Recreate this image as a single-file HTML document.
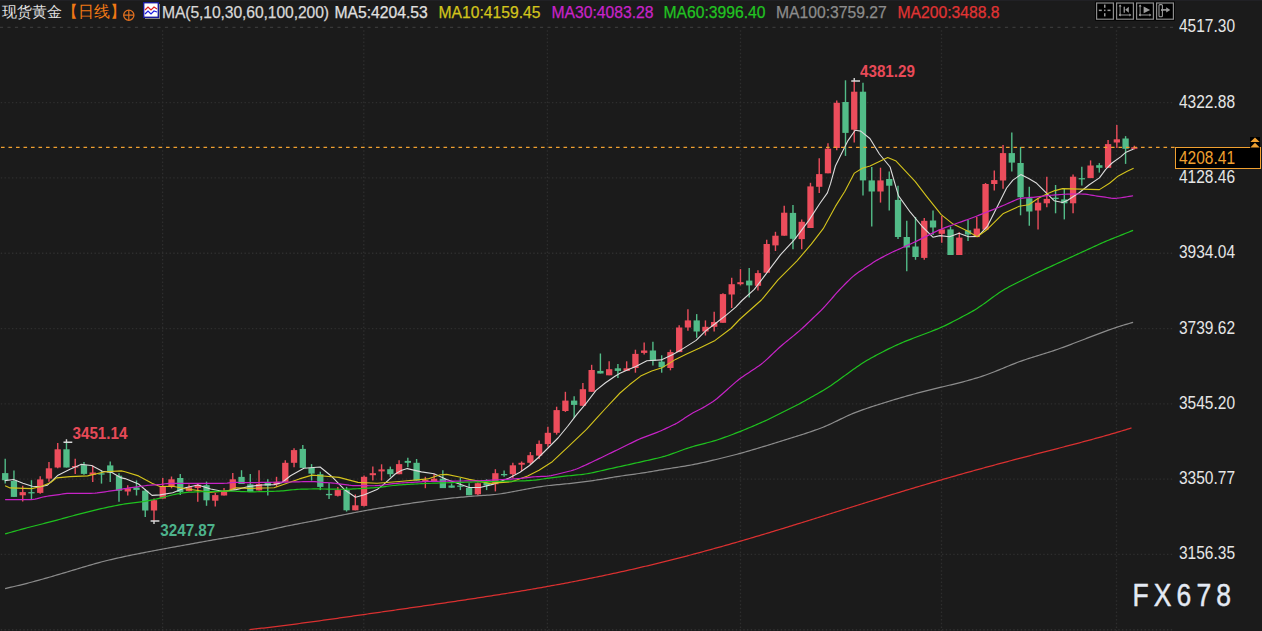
<!DOCTYPE html>
<html><head><meta charset="utf-8">
<style>
html,body{margin:0;padding:0;}
body{width:1262px;height:631px;background:#1b1b1b;position:relative;overflow:hidden;font-family:"Liberation Sans",sans-serif;}
svg{position:absolute;left:0;top:0;}
.t{position:absolute;white-space:nowrap;line-height:1;}
.ax{position:absolute;left:1179px;color:#e6e6e6;font-size:15.5px;line-height:1;white-space:nowrap;transform:scaleY(1.13);transform-origin:0 0;}
.hdr{top:5.2px;font-size:15.7px;transform:none;transform-origin:0 0;-webkit-text-stroke:0.25px currentColor;}
.lb{font-size:15.2px;font-weight:bold;transform:scaleY(1.12);transform-origin:0 0;}
.btn{position:absolute;top:2px;width:16px;height:15px;border:1px solid #8a8a8a;background:#000;box-shadow:0 0 0 1px #000;}
</style></head><body>
<div style="position:absolute;left:0;top:0;width:1262px;height:1px;background:#212125"></div>
<svg width="1262" height="631" viewBox="0 0 1262 631">
<line x1="-0.1" y1="27.37" x2="1174" y2="27.37" stroke="#383838" stroke-width="1.2" stroke-dasharray="3.2 4.3"/>
<line x1="0.75" y1="102.67" x2="1174" y2="102.67" stroke="#2e2e2e" stroke-width="1.3" stroke-dasharray="1.4 2.35"/>
<line x1="0.75" y1="177.97" x2="1174" y2="177.97" stroke="#2e2e2e" stroke-width="1.3" stroke-dasharray="1.4 2.35"/>
<line x1="0.75" y1="253.27" x2="1174" y2="253.27" stroke="#2e2e2e" stroke-width="1.3" stroke-dasharray="1.4 2.35"/>
<line x1="0.75" y1="328.57" x2="1174" y2="328.57" stroke="#2e2e2e" stroke-width="1.3" stroke-dasharray="1.4 2.35"/>
<line x1="0.75" y1="403.87" x2="1174" y2="403.87" stroke="#2e2e2e" stroke-width="1.3" stroke-dasharray="1.4 2.35"/>
<line x1="0.75" y1="479.17" x2="1174" y2="479.17" stroke="#2e2e2e" stroke-width="1.3" stroke-dasharray="1.4 2.35"/>
<line x1="0.75" y1="554.47" x2="1174" y2="554.47" stroke="#2e2e2e" stroke-width="1.3" stroke-dasharray="1.4 2.35"/>
<line x1="0.75" y1="629.77" x2="1174" y2="629.77" stroke="#2e2e2e" stroke-width="1.3" stroke-dasharray="1.4 2.35"/>
<line x1="162.6" y1="30.3" x2="162.6" y2="631" stroke="#2e2e2e" stroke-width="1.3" stroke-dasharray="1.4 2.35"/>
<line x1="363.8" y1="30.3" x2="363.8" y2="631" stroke="#2e2e2e" stroke-width="1.3" stroke-dasharray="1.4 2.35"/>
<line x1="547.4" y1="30.3" x2="547.4" y2="631" stroke="#2e2e2e" stroke-width="1.3" stroke-dasharray="1.4 2.35"/>
<line x1="740.5" y1="30.3" x2="740.5" y2="631" stroke="#2e2e2e" stroke-width="1.3" stroke-dasharray="1.4 2.35"/>
<line x1="941.5" y1="30.3" x2="941.5" y2="631" stroke="#2e2e2e" stroke-width="1.3" stroke-dasharray="1.4 2.35"/>
<line x1="1116.5" y1="30.3" x2="1116.5" y2="631" stroke="#2e2e2e" stroke-width="1.3" stroke-dasharray="1.4 2.35"/>
<line x1="5.2" y1="458.8" x2="5.2" y2="483.4" stroke="#52bc88" stroke-width="1.4"/>
<rect x="2.05" y="473.1" width="6.3" height="7.1" fill="#52bc88"/>
<line x1="13.95" y1="470.4" x2="13.95" y2="496.9" stroke="#52bc88" stroke-width="1.4"/>
<rect x="10.8" y="481" width="6.3" height="15.9" fill="#52bc88"/>
<line x1="22.71" y1="485.8" x2="22.71" y2="501.6" stroke="#ec4d5c" stroke-width="1.4"/>
<rect x="19.56" y="492.1" width="6.3" height="3.2" fill="#ec4d5c"/>
<line x1="31.46" y1="480.2" x2="31.46" y2="499.2" stroke="#52bc88" stroke-width="1.4"/>
<rect x="28.31" y="492.1" width="6.3" height="1.3" fill="#52bc88"/>
<line x1="40.21" y1="476.3" x2="40.21" y2="493.7" stroke="#ec4d5c" stroke-width="1.4"/>
<rect x="37.06" y="479.4" width="6.3" height="13.5" fill="#ec4d5c"/>
<line x1="48.97" y1="462" x2="48.97" y2="481.8" stroke="#ec4d5c" stroke-width="1.4"/>
<rect x="45.82" y="468.3" width="6.3" height="10.3" fill="#ec4d5c"/>
<line x1="57.72" y1="443" x2="57.72" y2="468.3" stroke="#ec4d5c" stroke-width="1.4"/>
<rect x="54.57" y="449.3" width="6.3" height="18.2" fill="#ec4d5c"/>
<line x1="66.47" y1="442.3" x2="66.47" y2="467.5" stroke="#52bc88" stroke-width="1.4"/>
<rect x="63.32" y="449.3" width="6.3" height="18.2" fill="#52bc88"/>
<line x1="75.22" y1="458.8" x2="75.22" y2="473.9" stroke="#ec4d5c" stroke-width="1.4"/>
<rect x="72.07" y="466" width="6.3" height="1.5" fill="#ec4d5c"/>
<line x1="83.98" y1="462" x2="83.98" y2="474.7" stroke="#52bc88" stroke-width="1.4"/>
<rect x="80.83" y="465.2" width="6.3" height="8.7" fill="#52bc88"/>
<line x1="92.73" y1="465.4" x2="92.73" y2="482" stroke="#ec4d5c" stroke-width="1.4"/>
<rect x="89.58" y="472.5" width="6.3" height="2.4" fill="#ec4d5c"/>
<line x1="101.48" y1="470.9" x2="101.48" y2="483.6" stroke="#52bc88" stroke-width="1.4"/>
<rect x="98.33" y="473.3" width="6.3" height="1.3" fill="#52bc88"/>
<line x1="110.24" y1="461.4" x2="110.24" y2="482" stroke="#52bc88" stroke-width="1.4"/>
<rect x="107.09" y="465.4" width="6.3" height="7.1" fill="#52bc88"/>
<line x1="118.99" y1="473.3" x2="118.99" y2="501.8" stroke="#52bc88" stroke-width="1.4"/>
<rect x="115.84" y="475.7" width="6.3" height="15" fill="#52bc88"/>
<line x1="127.74" y1="485.2" x2="127.74" y2="495.5" stroke="#ec4d5c" stroke-width="1.4"/>
<rect x="124.59" y="488.3" width="6.3" height="3.2" fill="#ec4d5c"/>
<line x1="136.5" y1="480.4" x2="136.5" y2="495.5" stroke="#52bc88" stroke-width="1.4"/>
<rect x="133.34" y="487.5" width="6.3" height="2.4" fill="#52bc88"/>
<line x1="145.25" y1="489.1" x2="145.25" y2="516.9" stroke="#52bc88" stroke-width="1.4"/>
<rect x="142.1" y="490.7" width="6.3" height="19.8" fill="#52bc88"/>
<line x1="154" y1="498.6" x2="154" y2="521" stroke="#ec4d5c" stroke-width="1.4"/>
<rect x="150.85" y="500.2" width="6.3" height="10.3" fill="#ec4d5c"/>
<line x1="162.75" y1="478" x2="162.75" y2="498.6" stroke="#ec4d5c" stroke-width="1.4"/>
<rect x="159.6" y="486" width="6.3" height="12.6" fill="#ec4d5c"/>
<line x1="171.51" y1="476.5" x2="171.51" y2="488.3" stroke="#ec4d5c" stroke-width="1.4"/>
<rect x="168.36" y="479.3" width="6.3" height="6.7" fill="#ec4d5c"/>
<line x1="180.26" y1="474" x2="180.26" y2="495" stroke="#52bc88" stroke-width="1.4"/>
<rect x="177.11" y="478" width="6.3" height="14" fill="#52bc88"/>
<line x1="189.01" y1="484.4" x2="189.01" y2="491.5" stroke="#ec4d5c" stroke-width="1.4"/>
<rect x="185.86" y="487.2" width="6.3" height="3.9" fill="#ec4d5c"/>
<line x1="197.77" y1="484" x2="197.77" y2="501.8" stroke="#ec4d5c" stroke-width="1.4"/>
<rect x="194.62" y="484.8" width="6.3" height="3.2" fill="#ec4d5c"/>
<line x1="206.52" y1="481.6" x2="206.52" y2="505.8" stroke="#52bc88" stroke-width="1.4"/>
<rect x="203.37" y="485.2" width="6.3" height="15.1" fill="#52bc88"/>
<line x1="215.27" y1="493.1" x2="215.27" y2="506.6" stroke="#ec4d5c" stroke-width="1.4"/>
<rect x="212.12" y="495.1" width="6.3" height="5.6" fill="#ec4d5c"/>
<line x1="224.02" y1="488" x2="224.02" y2="495.5" stroke="#ec4d5c" stroke-width="1.4"/>
<rect x="220.87" y="491.9" width="6.3" height="3.6" fill="#ec4d5c"/>
<line x1="232.78" y1="472.9" x2="232.78" y2="489.6" stroke="#ec4d5c" stroke-width="1.4"/>
<rect x="229.63" y="479.3" width="6.3" height="10.3" fill="#ec4d5c"/>
<line x1="241.53" y1="470.2" x2="241.53" y2="484" stroke="#52bc88" stroke-width="1.4"/>
<rect x="238.38" y="476.9" width="6.3" height="7.1" fill="#52bc88"/>
<line x1="250.28" y1="474.1" x2="250.28" y2="491.9" stroke="#52bc88" stroke-width="1.4"/>
<rect x="247.13" y="484.4" width="6.3" height="7.5" fill="#52bc88"/>
<line x1="259.04" y1="470.2" x2="259.04" y2="490.4" stroke="#ec4d5c" stroke-width="1.4"/>
<rect x="255.89" y="484" width="6.3" height="6.4" fill="#ec4d5c"/>
<line x1="267.79" y1="479.3" x2="267.79" y2="495.5" stroke="#52bc88" stroke-width="1.4"/>
<rect x="264.64" y="482" width="6.3" height="3.6" fill="#52bc88"/>
<line x1="276.54" y1="476.8" x2="276.54" y2="486.9" stroke="#ec4d5c" stroke-width="1.4"/>
<rect x="273.39" y="481.8" width="6.3" height="2.6" fill="#ec4d5c"/>
<line x1="285.3" y1="460.3" x2="285.3" y2="481.8" stroke="#ec4d5c" stroke-width="1.4"/>
<rect x="282.15" y="462.8" width="6.3" height="19" fill="#ec4d5c"/>
<line x1="294.05" y1="448.2" x2="294.05" y2="467.2" stroke="#ec4d5c" stroke-width="1.4"/>
<rect x="290.9" y="450.1" width="6.3" height="12.7" fill="#ec4d5c"/>
<line x1="302.8" y1="445.1" x2="302.8" y2="467.9" stroke="#52bc88" stroke-width="1.4"/>
<rect x="299.65" y="448.9" width="6.3" height="19" fill="#52bc88"/>
<line x1="311.56" y1="464.1" x2="311.56" y2="480.6" stroke="#52bc88" stroke-width="1.4"/>
<rect x="308.41" y="467.9" width="6.3" height="5.7" fill="#52bc88"/>
<line x1="320.31" y1="471.7" x2="320.31" y2="490.1" stroke="#52bc88" stroke-width="1.4"/>
<rect x="317.16" y="474.2" width="6.3" height="12.7" fill="#52bc88"/>
<line x1="329.06" y1="483.1" x2="329.06" y2="498.9" stroke="#52bc88" stroke-width="1.4"/>
<rect x="325.91" y="493.9" width="6.3" height="1.3" fill="#52bc88"/>
<line x1="337.81" y1="486.9" x2="337.81" y2="496.4" stroke="#ec4d5c" stroke-width="1.4"/>
<rect x="334.66" y="490.1" width="6.3" height="5.7" fill="#ec4d5c"/>
<line x1="346.57" y1="486.9" x2="346.57" y2="511.6" stroke="#52bc88" stroke-width="1.4"/>
<rect x="343.42" y="490.1" width="6.3" height="20.2" fill="#52bc88"/>
<line x1="355.32" y1="494.5" x2="355.32" y2="510.3" stroke="#ec4d5c" stroke-width="1.4"/>
<rect x="352.17" y="505.3" width="6.3" height="5" fill="#ec4d5c"/>
<line x1="364.07" y1="475.5" x2="364.07" y2="506.5" stroke="#ec4d5c" stroke-width="1.4"/>
<rect x="360.92" y="476.8" width="6.3" height="29.1" fill="#ec4d5c"/>
<line x1="372.83" y1="466.6" x2="372.83" y2="480.6" stroke="#ec4d5c" stroke-width="1.4"/>
<rect x="369.68" y="473.2" width="6.3" height="2" fill="#ec4d5c"/>
<line x1="381.58" y1="464.3" x2="381.58" y2="480.6" stroke="#ec4d5c" stroke-width="1.4"/>
<rect x="378.43" y="469.4" width="6.3" height="2" fill="#ec4d5c"/>
<line x1="390.33" y1="466.6" x2="390.33" y2="476.8" stroke="#52bc88" stroke-width="1.4"/>
<rect x="387.18" y="469.2" width="6.3" height="5" fill="#52bc88"/>
<line x1="399.08" y1="460.3" x2="399.08" y2="474.2" stroke="#ec4d5c" stroke-width="1.4"/>
<rect x="395.94" y="464.1" width="6.3" height="10.1" fill="#ec4d5c"/>
<line x1="407.84" y1="457.7" x2="407.84" y2="467.2" stroke="#52bc88" stroke-width="1.4"/>
<rect x="404.69" y="460.9" width="6.3" height="1.9" fill="#52bc88"/>
<line x1="416.59" y1="459" x2="416.59" y2="480.6" stroke="#52bc88" stroke-width="1.4"/>
<rect x="413.44" y="462.8" width="6.3" height="17.8" fill="#52bc88"/>
<line x1="425.34" y1="476.8" x2="425.34" y2="488.2" stroke="#ec4d5c" stroke-width="1.4"/>
<rect x="422.19" y="480" width="6.3" height="2" fill="#ec4d5c"/>
<line x1="434.1" y1="474" x2="434.1" y2="481.4" stroke="#ec4d5c" stroke-width="1.4"/>
<rect x="430.95" y="478.7" width="6.3" height="2.7" fill="#ec4d5c"/>
<line x1="442.85" y1="470.2" x2="442.85" y2="488.1" stroke="#52bc88" stroke-width="1.4"/>
<rect x="439.7" y="478.7" width="6.3" height="9.4" fill="#52bc88"/>
<line x1="451.6" y1="483.5" x2="451.6" y2="487.7" stroke="#52bc88" stroke-width="1.4"/>
<rect x="448.45" y="485.5" width="6.3" height="2.2" fill="#52bc88"/>
<line x1="460.36" y1="478" x2="460.36" y2="490.1" stroke="#52bc88" stroke-width="1.4"/>
<rect x="457.21" y="485.5" width="6.3" height="1.3" fill="#52bc88"/>
<line x1="469.11" y1="483.2" x2="469.11" y2="495.3" stroke="#52bc88" stroke-width="1.4"/>
<rect x="465.96" y="487.8" width="6.3" height="7.5" fill="#52bc88"/>
<line x1="477.86" y1="482.5" x2="477.86" y2="495.3" stroke="#ec4d5c" stroke-width="1.4"/>
<rect x="474.71" y="483.2" width="6.3" height="11.1" fill="#ec4d5c"/>
<line x1="486.62" y1="479.3" x2="486.62" y2="490.1" stroke="#52bc88" stroke-width="1.4"/>
<rect x="483.47" y="482.9" width="6.3" height="2.6" fill="#52bc88"/>
<line x1="495.37" y1="469.2" x2="495.37" y2="491.4" stroke="#ec4d5c" stroke-width="1.4"/>
<rect x="492.22" y="473.2" width="6.3" height="11" fill="#ec4d5c"/>
<line x1="504.12" y1="470.4" x2="504.12" y2="476.8" stroke="#52bc88" stroke-width="1.4"/>
<rect x="500.97" y="474" width="6.3" height="1.3" fill="#52bc88"/>
<line x1="512.87" y1="462.8" x2="512.87" y2="478" stroke="#ec4d5c" stroke-width="1.4"/>
<rect x="509.72" y="465.3" width="6.3" height="8.9" fill="#ec4d5c"/>
<line x1="521.63" y1="461.5" x2="521.63" y2="471" stroke="#ec4d5c" stroke-width="1.4"/>
<rect x="518.48" y="462.8" width="6.3" height="1.9" fill="#ec4d5c"/>
<line x1="530.38" y1="452" x2="530.38" y2="464.7" stroke="#ec4d5c" stroke-width="1.4"/>
<rect x="527.23" y="455.2" width="6.3" height="7.6" fill="#ec4d5c"/>
<line x1="539.13" y1="440.6" x2="539.13" y2="459" stroke="#ec4d5c" stroke-width="1.4"/>
<rect x="535.98" y="443.9" width="6.3" height="11.7" fill="#ec4d5c"/>
<line x1="547.89" y1="426.7" x2="547.89" y2="446.8" stroke="#ec4d5c" stroke-width="1.4"/>
<rect x="544.74" y="432.8" width="6.3" height="11.3" fill="#ec4d5c"/>
<line x1="556.64" y1="406.7" x2="556.64" y2="434.6" stroke="#ec4d5c" stroke-width="1.4"/>
<rect x="553.49" y="410.1" width="6.3" height="22.7" fill="#ec4d5c"/>
<line x1="565.39" y1="391.8" x2="565.39" y2="411.9" stroke="#ec4d5c" stroke-width="1.4"/>
<rect x="562.24" y="400.6" width="6.3" height="10.4" fill="#ec4d5c"/>
<line x1="574.15" y1="396.2" x2="574.15" y2="418" stroke="#52bc88" stroke-width="1.4"/>
<rect x="571" y="400.6" width="6.3" height="4.3" fill="#52bc88"/>
<line x1="582.9" y1="383.1" x2="582.9" y2="405.8" stroke="#ec4d5c" stroke-width="1.4"/>
<rect x="579.75" y="389.2" width="6.3" height="16.6" fill="#ec4d5c"/>
<line x1="591.65" y1="364.8" x2="591.65" y2="391.8" stroke="#ec4d5c" stroke-width="1.4"/>
<rect x="588.5" y="370" width="6.3" height="21.8" fill="#ec4d5c"/>
<line x1="600.4" y1="353.5" x2="600.4" y2="373.5" stroke="#52bc88" stroke-width="1.4"/>
<rect x="597.25" y="370.9" width="6.3" height="2.6" fill="#52bc88"/>
<line x1="609.16" y1="361.3" x2="609.16" y2="375.3" stroke="#ec4d5c" stroke-width="1.4"/>
<rect x="606.01" y="369.2" width="6.3" height="6.1" fill="#ec4d5c"/>
<line x1="617.91" y1="363.9" x2="617.91" y2="377.9" stroke="#52bc88" stroke-width="1.4"/>
<rect x="614.76" y="368.3" width="6.3" height="2.6" fill="#52bc88"/>
<line x1="626.66" y1="361.3" x2="626.66" y2="370.9" stroke="#ec4d5c" stroke-width="1.4"/>
<rect x="623.51" y="368.3" width="6.3" height="2.6" fill="#ec4d5c"/>
<line x1="635.42" y1="349.7" x2="635.42" y2="372.7" stroke="#ec4d5c" stroke-width="1.4"/>
<rect x="632.27" y="353.9" width="6.3" height="14.1" fill="#ec4d5c"/>
<line x1="644.17" y1="342.6" x2="644.17" y2="354.5" stroke="#ec4d5c" stroke-width="1.4"/>
<rect x="641.02" y="350.5" width="6.3" height="2.4" fill="#ec4d5c"/>
<line x1="652.92" y1="341.8" x2="652.92" y2="365.6" stroke="#52bc88" stroke-width="1.4"/>
<rect x="649.77" y="350.5" width="6.3" height="10.3" fill="#52bc88"/>
<line x1="661.68" y1="355.3" x2="661.68" y2="372.7" stroke="#52bc88" stroke-width="1.4"/>
<rect x="658.53" y="361.6" width="6.3" height="5.6" fill="#52bc88"/>
<line x1="670.43" y1="349.7" x2="670.43" y2="370.3" stroke="#ec4d5c" stroke-width="1.4"/>
<rect x="667.28" y="352.1" width="6.3" height="15.9" fill="#ec4d5c"/>
<line x1="679.18" y1="325.2" x2="679.18" y2="352.1" stroke="#ec4d5c" stroke-width="1.4"/>
<rect x="676.03" y="327.5" width="6.3" height="24.6" fill="#ec4d5c"/>
<line x1="687.93" y1="309.3" x2="687.93" y2="330.7" stroke="#ec4d5c" stroke-width="1.4"/>
<rect x="684.78" y="320.4" width="6.3" height="7.1" fill="#ec4d5c"/>
<line x1="696.69" y1="314.1" x2="696.69" y2="337.8" stroke="#52bc88" stroke-width="1.4"/>
<rect x="693.54" y="320.4" width="6.3" height="11.1" fill="#52bc88"/>
<line x1="705.44" y1="320.4" x2="705.44" y2="335.5" stroke="#ec4d5c" stroke-width="1.4"/>
<rect x="702.29" y="326.8" width="6.3" height="4.7" fill="#ec4d5c"/>
<line x1="714.19" y1="311.7" x2="714.19" y2="331.5" stroke="#ec4d5c" stroke-width="1.4"/>
<rect x="711.04" y="322" width="6.3" height="4.8" fill="#ec4d5c"/>
<line x1="722.95" y1="293.3" x2="722.95" y2="322.8" stroke="#ec4d5c" stroke-width="1.4"/>
<rect x="719.8" y="294.1" width="6.3" height="28.7" fill="#ec4d5c"/>
<line x1="731.7" y1="277.8" x2="731.7" y2="307.9" stroke="#ec4d5c" stroke-width="1.4"/>
<rect x="728.55" y="284.2" width="6.3" height="10.3" fill="#ec4d5c"/>
<line x1="740.45" y1="269.1" x2="740.45" y2="285.4" stroke="#ec4d5c" stroke-width="1.4"/>
<rect x="737.3" y="282.2" width="6.3" height="2" fill="#ec4d5c"/>
<line x1="749.21" y1="267.9" x2="749.21" y2="297.6" stroke="#52bc88" stroke-width="1.4"/>
<rect x="746.06" y="280.6" width="6.3" height="4.8" fill="#52bc88"/>
<line x1="757.96" y1="270.3" x2="757.96" y2="290.5" stroke="#ec4d5c" stroke-width="1.4"/>
<rect x="754.81" y="273.1" width="6.3" height="12.7" fill="#ec4d5c"/>
<line x1="766.71" y1="239.7" x2="766.71" y2="272.7" stroke="#ec4d5c" stroke-width="1.4"/>
<rect x="763.56" y="244" width="6.3" height="28.7" fill="#ec4d5c"/>
<line x1="775.46" y1="231.8" x2="775.46" y2="251" stroke="#ec4d5c" stroke-width="1.4"/>
<rect x="772.31" y="235.7" width="6.3" height="9.7" fill="#ec4d5c"/>
<line x1="784.22" y1="205.7" x2="784.22" y2="235.7" stroke="#ec4d5c" stroke-width="1.4"/>
<rect x="781.07" y="212.7" width="6.3" height="23" fill="#ec4d5c"/>
<line x1="792.97" y1="205" x2="792.97" y2="249.3" stroke="#52bc88" stroke-width="1.4"/>
<rect x="789.82" y="212.9" width="6.3" height="25.9" fill="#52bc88"/>
<line x1="801.72" y1="219.4" x2="801.72" y2="249.3" stroke="#ec4d5c" stroke-width="1.4"/>
<rect x="798.57" y="221.8" width="6.3" height="17.3" fill="#ec4d5c"/>
<line x1="810.48" y1="182.8" x2="810.48" y2="228" stroke="#ec4d5c" stroke-width="1.4"/>
<rect x="807.33" y="186.4" width="6.3" height="41.6" fill="#ec4d5c"/>
<line x1="819.23" y1="158.2" x2="819.23" y2="193.1" stroke="#ec4d5c" stroke-width="1.4"/>
<rect x="816.08" y="174.1" width="6.3" height="12.7" fill="#ec4d5c"/>
<line x1="827.98" y1="143.2" x2="827.98" y2="173.3" stroke="#ec4d5c" stroke-width="1.4"/>
<rect x="824.83" y="148.7" width="6.3" height="24.6" fill="#ec4d5c"/>
<line x1="836.74" y1="100.4" x2="836.74" y2="150.3" stroke="#ec4d5c" stroke-width="1.4"/>
<rect x="833.59" y="102.8" width="6.3" height="45.2" fill="#ec4d5c"/>
<line x1="845.49" y1="80.3" x2="845.49" y2="155.9" stroke="#52bc88" stroke-width="1.4"/>
<rect x="842.34" y="102" width="6.3" height="30.9" fill="#52bc88"/>
<line x1="854.24" y1="81" x2="854.24" y2="142.4" stroke="#ec4d5c" stroke-width="1.4"/>
<rect x="851.09" y="91.7" width="6.3" height="38" fill="#ec4d5c"/>
<line x1="862.99" y1="82.8" x2="862.99" y2="195.5" stroke="#52bc88" stroke-width="1.4"/>
<rect x="859.84" y="91.7" width="6.3" height="88.7" fill="#52bc88"/>
<line x1="871.75" y1="166.9" x2="871.75" y2="226.4" stroke="#52bc88" stroke-width="1.4"/>
<rect x="868.6" y="180.4" width="6.3" height="11.1" fill="#52bc88"/>
<line x1="880.5" y1="167.7" x2="880.5" y2="202.6" stroke="#ec4d5c" stroke-width="1.4"/>
<rect x="877.35" y="180.4" width="6.3" height="11.1" fill="#ec4d5c"/>
<line x1="889.25" y1="171.4" x2="889.25" y2="210.4" stroke="#52bc88" stroke-width="1.4"/>
<rect x="886.1" y="179" width="6.3" height="6.7" fill="#52bc88"/>
<line x1="898.01" y1="185.7" x2="898.01" y2="238.9" stroke="#52bc88" stroke-width="1.4"/>
<rect x="894.86" y="199.9" width="6.3" height="37.1" fill="#52bc88"/>
<line x1="906.76" y1="220.8" x2="906.76" y2="271.2" stroke="#52bc88" stroke-width="1.4"/>
<rect x="903.61" y="237" width="6.3" height="10.5" fill="#52bc88"/>
<line x1="915.51" y1="217" x2="915.51" y2="259.8" stroke="#52bc88" stroke-width="1.4"/>
<rect x="912.36" y="246.5" width="6.3" height="10.5" fill="#52bc88"/>
<line x1="924.27" y1="218" x2="924.27" y2="259.8" stroke="#ec4d5c" stroke-width="1.4"/>
<rect x="921.12" y="220.8" width="6.3" height="37.1" fill="#ec4d5c"/>
<line x1="933.02" y1="210.4" x2="933.02" y2="235.1" stroke="#52bc88" stroke-width="1.4"/>
<rect x="929.87" y="220.5" width="6.3" height="7" fill="#52bc88"/>
<line x1="941.77" y1="216.1" x2="941.77" y2="242.7" stroke="#ec4d5c" stroke-width="1.4"/>
<rect x="938.62" y="229.4" width="6.3" height="4.4" fill="#ec4d5c"/>
<line x1="950.52" y1="226.5" x2="950.52" y2="255" stroke="#52bc88" stroke-width="1.4"/>
<rect x="947.37" y="229.4" width="6.3" height="25.6" fill="#52bc88"/>
<line x1="959.28" y1="232.2" x2="959.28" y2="255" stroke="#ec4d5c" stroke-width="1.4"/>
<rect x="956.13" y="237.6" width="6.3" height="17.4" fill="#ec4d5c"/>
<line x1="968.03" y1="220" x2="968.03" y2="241" stroke="#52bc88" stroke-width="1.4"/>
<rect x="964.88" y="230.3" width="6.3" height="4.2" fill="#52bc88"/>
<line x1="976.78" y1="217" x2="976.78" y2="237.1" stroke="#ec4d5c" stroke-width="1.4"/>
<rect x="973.63" y="228.6" width="6.3" height="8.5" fill="#ec4d5c"/>
<line x1="985.54" y1="183" x2="985.54" y2="229.6" stroke="#ec4d5c" stroke-width="1.4"/>
<rect x="982.39" y="184" width="6.3" height="45.6" fill="#ec4d5c"/>
<line x1="994.29" y1="170.6" x2="994.29" y2="190.6" stroke="#ec4d5c" stroke-width="1.4"/>
<rect x="991.14" y="180.1" width="6.3" height="3.9" fill="#ec4d5c"/>
<line x1="1003.04" y1="145" x2="1003.04" y2="188.7" stroke="#ec4d5c" stroke-width="1.4"/>
<rect x="999.89" y="153.1" width="6.3" height="27.4" fill="#ec4d5c"/>
<line x1="1011.8" y1="132.6" x2="1011.8" y2="171.6" stroke="#52bc88" stroke-width="1.4"/>
<rect x="1008.65" y="153.1" width="6.3" height="9.5" fill="#52bc88"/>
<line x1="1020.55" y1="146.9" x2="1020.55" y2="215.3" stroke="#52bc88" stroke-width="1.4"/>
<rect x="1017.4" y="163" width="6.3" height="34.2" fill="#52bc88"/>
<line x1="1029.3" y1="186.8" x2="1029.3" y2="225.8" stroke="#52bc88" stroke-width="1.4"/>
<rect x="1026.15" y="198.2" width="6.3" height="13.3" fill="#52bc88"/>
<line x1="1038.05" y1="198.3" x2="1038.05" y2="229.4" stroke="#ec4d5c" stroke-width="1.4"/>
<rect x="1034.9" y="202.7" width="6.3" height="7.8" fill="#ec4d5c"/>
<line x1="1046.81" y1="176.7" x2="1046.81" y2="207.2" stroke="#ec4d5c" stroke-width="1.4"/>
<rect x="1043.66" y="198.9" width="6.3" height="4.4" fill="#ec4d5c"/>
<line x1="1055.56" y1="185" x2="1055.56" y2="213.3" stroke="#52bc88" stroke-width="1.4"/>
<rect x="1052.41" y="197.7" width="6.3" height="1.3" fill="#52bc88"/>
<line x1="1064.31" y1="188.9" x2="1064.31" y2="219.4" stroke="#52bc88" stroke-width="1.4"/>
<rect x="1061.16" y="199.4" width="6.3" height="3.9" fill="#52bc88"/>
<line x1="1073.07" y1="174.4" x2="1073.07" y2="213.3" stroke="#ec4d5c" stroke-width="1.4"/>
<rect x="1069.92" y="176.7" width="6.3" height="26.6" fill="#ec4d5c"/>
<line x1="1081.82" y1="166.7" x2="1081.82" y2="185.5" stroke="#52bc88" stroke-width="1.4"/>
<rect x="1078.67" y="178.1" width="6.3" height="1.3" fill="#52bc88"/>
<line x1="1090.57" y1="160.4" x2="1090.57" y2="178.1" stroke="#ec4d5c" stroke-width="1.4"/>
<rect x="1087.42" y="165.5" width="6.3" height="12.6" fill="#ec4d5c"/>
<line x1="1099.33" y1="163.1" x2="1099.33" y2="172.6" stroke="#52bc88" stroke-width="1.4"/>
<rect x="1096.17" y="165.2" width="6.3" height="2.6" fill="#52bc88"/>
<line x1="1108.08" y1="140.1" x2="1108.08" y2="167.8" stroke="#ec4d5c" stroke-width="1.4"/>
<rect x="1104.93" y="144.1" width="6.3" height="23.7" fill="#ec4d5c"/>
<line x1="1116.83" y1="125.1" x2="1116.83" y2="148" stroke="#ec4d5c" stroke-width="1.4"/>
<rect x="1113.68" y="139.3" width="6.3" height="3.2" fill="#ec4d5c"/>
<line x1="1125.58" y1="136.1" x2="1125.58" y2="163.9" stroke="#52bc88" stroke-width="1.4"/>
<rect x="1122.43" y="138.5" width="6.3" height="10.3" fill="#52bc88"/>
<line x1="1134.34" y1="145.7" x2="1134.34" y2="149.5" stroke="#ec4d5c" stroke-width="1.4"/>
<rect x="1131.19" y="147.2" width="6.3" height="1.6" fill="#ec4d5c"/>
<path d="M4.7 480.6 L13.5 479.5 L22.9 483.3 L32.3 486.3 L40.4 486.7 L47.2 485.3 L58 475.2 L70 469.2 L80.9 464.4 L91.6 465.5 L102.4 471.2 L111.9 472.5 L121.3 477.9 L125 478.6 L138.5 484 L152 495.4 L160 494.9 L172.7 492.8 L185.3 487.7 L198 485 L210.7 489 L223.4 491.5 L236 489.6 L248.7 486.5 L261.4 485 L274.1 484.6 L281.7 482.7 L290.5 475.7 L303.9 468.3 L320.1 467 L330.9 475.7 L345.3 490.3 L355.5 497.2 L364.4 494.7 L377 489.6 L383.4 484.6 L395.2 474 L401 470.6 L407.3 468.6 L421.4 471.9 L434.1 473.8 L446.7 479.5 L459.4 483.9 L469.3 487.5 L480 487.5 L492.7 484.4 L509.2 478 L520 472.2 L529.5 465.5 L539 457 L548.5 447.5 L558 438 L567.5 426.5 L577 414.2 L586.5 402.8 L596 390.4 L605.5 382.8 L615 376.2 L620 373.2 L627.9 369.7 L635.8 366.6 L646.9 360.7 L661.2 359.9 L672.3 354.7 L681.8 349.4 L696.1 340.4 L705.6 330.9 L715.1 323.8 L726.2 315.1 L735.7 307.1 L742 300.5 L754.3 289.3 L766.1 273.9 L780.4 254.9 L794.7 239.4 L808.9 220.4 L819.5 204 L827.4 192.9 L830.6 183.4 L835.4 166 L841.7 153.3 L848 140.6 L855.2 130.3 L860.7 131.1 L869.9 138.5 L879.4 154 L890.1 167 L898.4 195.6 L910.3 212.2 L922.2 226.5 L932.9 237.2 L940 235.6 L949.5 236.8 L959 233.2 L968.5 236.8 L978 236.4 L987.5 226.1 L997.1 207.1 L1006.6 188 L1012.9 180.1 L1020.8 174.6 L1028.7 178.5 L1036.7 183.3 L1046.2 192.8 L1054.1 200.7 L1062.6 202.5 L1067.7 200.3 L1079.1 192.7 L1089.2 184.8 L1099.4 177.9 L1105.7 169.3 L1112 163 L1120.9 156.6 L1126 152.2 L1133.6 149" fill="none" stroke="#dcdcdc" stroke-width="1.1" stroke-linejoin="round"/>
<path d="M5.1 485.7 L10.1 487.9 L31.7 488.6 L41.8 486.3 L50.7 482.5 L56.6 477.9 L70 476.6 L87.6 475.9 L105.1 471.8 L121.3 470.9 L125 471.8 L138.5 475.9 L152 483.3 L160 486.5 L172.7 486.2 L185.3 488.8 L210.7 492.2 L227.2 490.9 L236 487.7 L248.7 488.4 L274.1 487.7 L290.5 482 L299.4 478.9 L312.1 475.1 L320 475.7 L339 477.4 L358 482.4 L377 483.3 L402.4 481.2 L427.7 478.9 L440.4 474.8 L446.7 474.4 L459.4 477 L469.3 479.4 L489.6 483.4 L511.7 481.8 L527.6 476 L539 470.3 L552.3 461.7 L569.4 445.6 L586.5 429.4 L596 418.9 L605.5 408.5 L620 393 L629.5 384.8 L640.6 376.1 L651.7 371 L662.8 367.4 L675.5 359.4 L686.6 353.9 L699.2 348.3 L715.1 340.4 L730.9 328.5 L740 319 L761.4 300 L778 279.8 L797 260.8 L811.3 244.2 L823.2 228.7 L835.4 206.4 L844.9 191.3 L854.4 173.1 L862.3 168.3 L870 166 L887.7 157.5 L896.1 161.1 L915.1 181.3 L927 196.8 L941.2 214.6 L953.1 224.1 L968.5 231.6 L977.2 236.8 L987.5 229.2 L1003.4 213.4 L1019.2 206.3 L1028.7 204.7 L1038.3 198.3 L1047.8 193.6 L1055 190.6 L1062.6 188.6 L1099.4 189.6 L1109.5 183.2 L1118.4 175.9 L1127.2 171.2 L1133.6 168.3" fill="none" stroke="#d4c41c" stroke-width="1.1" stroke-linejoin="round"/>
<path d="M5.1 499.6 L7.1 499.6 L9.1 499.6 L11.1 499.6 L13.1 499.6 L15.1 499.6 L17.1 499.6 L19.1 499.6 L21.1 499.6 L23.1 499.6 L25.1 499.6 L27.1 499.6 L29.1 499.58 L31.1 499.53 L33.1 499.38 L35.1 499.08 L37.1 498.64 L39.1 498.1 L41.1 497.54 L43.1 497.02 L45.1 496.58 L47.1 496.23 L49.1 495.95 L51.1 495.7 L53.1 495.46 L55.1 495.19 L57.1 494.9 L59.1 494.57 L61.1 494.22 L63.1 493.89 L65.1 493.62 L67.1 493.43 L69.1 493.34 L71.1 493.31 L73.1 493.3 L75.1 493.3 L77.1 493.3 L79.1 493.3 L81.1 493.3 L83.1 493.3 L85.1 493.3 L87.1 493.3 L89.1 493.3 L91.1 493.28 L93.1 493.24 L95.1 493.13 L97.1 492.94 L99.1 492.68 L101.1 492.39 L103.1 492.09 L105.1 491.79 L107.1 491.49 L109.1 491.19 L111.1 490.89 L113.1 490.59 L115.1 490.29 L117.1 489.98 L119.1 489.66 L121.1 489.31 L123.1 488.94 L125.1 488.57 L127.1 488.22 L129.1 487.9 L131.1 487.61 L133.1 487.33 L135.1 487.06 L137.1 486.79 L139.1 486.52 L141.1 486.25 L143.1 485.98 L145.1 485.72 L147.1 485.47 L149.1 485.25 L151.1 485.08 L153.1 484.95 L155.1 484.83 L157.1 484.71 L159.1 484.54 L161.1 484.32 L163.1 484.05 L165.1 483.78 L167.1 483.55 L169.1 483.4 L171.1 483.33 L173.1 483.31 L175.1 483.3 L177.1 483.3 L179.1 483.3 L181.1 483.3 L183.1 483.3 L185.1 483.3 L187.1 483.3 L189.1 483.3 L191.1 483.3 L193.1 483.3 L195.1 483.3 L197.1 483.3 L199.1 483.3 L201.1 483.3 L203.1 483.3 L205.1 483.3 L207.1 483.3 L209.1 483.3 L211.1 483.3 L213.1 483.3 L215.1 483.3 L217.1 483.3 L219.1 483.3 L221.1 483.3 L223.1 483.28 L225.1 483.23 L227.1 483.09 L229.1 482.87 L231.1 482.64 L233.1 482.49 L235.1 482.44 L237.1 482.47 L239.1 482.51 L241.1 482.56 L243.1 482.61 L245.1 482.64 L247.1 482.65 L249.1 482.64 L251.1 482.62 L253.1 482.59 L255.1 482.56 L257.1 482.53 L259.1 482.5 L261.1 482.46 L263.1 482.43 L265.1 482.4 L267.1 482.37 L269.1 482.34 L271.1 482.31 L273.1 482.27 L275.1 482.24 L277.1 482.21 L279.1 482.18 L281.1 482.15 L283.1 482.12 L285.1 482.09 L287.1 482.05 L289.1 482.02 L291.1 481.98 L293.1 481.94 L295.1 481.89 L297.1 481.84 L299.1 481.8 L301.1 481.75 L303.1 481.7 L305.1 481.66 L307.1 481.61 L309.1 481.56 L311.1 481.53 L313.1 481.53 L315.1 481.61 L317.1 481.79 L319.1 482.02 L321.1 482.24 L323.1 482.41 L325.1 482.53 L327.1 482.64 L329.1 482.75 L331.1 482.88 L333.1 483.05 L335.1 483.27 L337.1 483.53 L339.1 483.81 L341.1 484.09 L343.1 484.38 L345.1 484.66 L347.1 484.94 L349.1 485.19 L351.1 485.39 L353.1 485.53 L355.1 485.6 L357.1 485.64 L359.1 485.66 L361.1 485.67 L363.1 485.69 L365.1 485.71 L367.1 485.72 L369.1 485.74 L371.1 485.75 L373.1 485.75 L375.1 485.72 L377.1 485.63 L379.1 485.47 L381.1 485.25 L383.1 485 L385.1 484.73 L387.1 484.47 L389.1 484.21 L391.1 483.95 L393.1 483.7 L395.1 483.48 L397.1 483.29 L399.1 483.13 L401.1 483 L403.1 482.87 L405.1 482.75 L407.1 482.63 L409.1 482.51 L411.1 482.39 L413.1 482.28 L415.1 482.16 L417.1 482.04 L419.1 481.92 L421.1 481.8 L423.1 481.68 L425.1 481.57 L427.1 481.48 L429.1 481.41 L431.1 481.37 L433.1 481.34 L435.1 481.32 L437.1 481.29 L439.1 481.27 L441.1 481.25 L443.1 481.22 L445.1 481.2 L447.1 481.18 L449.1 481.15 L451.1 481.13 L453.1 481.11 L455.1 481.09 L457.1 481.06 L459.1 481.04 L461.1 481.02 L463.1 480.99 L465.1 480.97 L467.1 480.95 L469.1 480.93 L471.1 480.9 L473.1 480.88 L475.1 480.85 L477.1 480.82 L479.1 480.77 L481.1 480.71 L483.1 480.62 L485.1 480.52 L487.1 480.41 L489.1 480.3 L491.1 480.19 L493.1 480.08 L495.1 479.97 L497.1 479.85 L499.1 479.74 L501.1 479.63 L503.1 479.52 L505.1 479.41 L507.1 479.3 L509.1 479.19 L511.1 479.08 L513.1 478.97 L515.1 478.84 L517.1 478.69 L519.1 478.51 L521.1 478.3 L523.1 478.06 L525.1 477.81 L527.1 477.56 L529.1 477.32 L531.1 477.1 L533.1 476.9 L535.1 476.76 L537.1 476.64 L539.1 476.55 L541.1 476.46 L543.1 476.38 L545.1 476.28 L547.1 476.14 L549.1 475.93 L551.1 475.62 L553.1 475.2 L555.1 474.73 L557.1 474.23 L559.1 473.73 L561.1 473.23 L563.1 472.73 L565.1 472.24 L567.1 471.74 L569.1 471.25 L571.1 470.74 L573.1 470.18 L575.1 469.53 L577.1 468.78 L579.1 467.94 L581.1 467.06 L583.1 466.16 L585.1 465.26 L587.1 464.34 L589.1 463.41 L591.1 462.47 L593.1 461.51 L595.1 460.56 L597.1 459.6 L599.1 458.64 L601.1 457.68 L603.1 456.72 L605.1 455.76 L607.1 454.8 L609.1 453.83 L611.1 452.86 L613.1 451.88 L615.1 450.91 L617.1 449.94 L619.1 448.96 L621.1 447.99 L623.1 447.01 L625.1 446.04 L627.1 445.06 L629.1 444.07 L631.1 443.09 L633.1 442.1 L635.1 441.12 L637.1 440.16 L639.1 439.24 L641.1 438.39 L643.1 437.59 L645.1 436.83 L647.1 436.09 L649.1 435.35 L651.1 434.61 L653.1 433.87 L655.1 433.13 L657.1 432.36 L659.1 431.54 L661.1 430.68 L663.1 429.77 L665.1 428.84 L667.1 427.91 L669.1 426.97 L671.1 426.03 L673.1 425.08 L675.1 424.1 L677.1 423.03 L679.1 421.86 L681.1 420.57 L683.1 419.21 L685.1 417.83 L687.1 416.46 L689.1 415.14 L691.1 413.91 L693.1 412.78 L695.1 411.73 L697.1 410.73 L699.1 409.72 L701.1 408.7 L703.1 407.63 L705.1 406.49 L707.1 405.31 L709.1 404.09 L711.1 402.83 L713.1 401.5 L715.1 400.05 L717.1 398.46 L719.1 396.76 L721.1 395 L723.1 393.23 L725.1 391.45 L727.1 389.68 L729.1 387.9 L731.1 386.13 L733.1 384.36 L735.1 382.6 L737.1 380.91 L739.1 379.3 L741.1 377.82 L743.1 376.42 L745.1 375.07 L747.1 373.73 L749.1 372.4 L751.1 371.07 L753.1 369.73 L755.1 368.4 L757.1 367.06 L759.1 365.68 L761.1 364.23 L763.1 362.65 L765.1 360.92 L767.1 359.08 L769.1 357.2 L771.1 355.29 L773.1 353.38 L775.1 351.48 L777.1 349.6 L779.1 347.77 L781.1 346.01 L783.1 344.31 L785.1 342.65 L787.1 341.01 L789.1 339.38 L791.1 337.75 L793.1 336.12 L795.1 334.48 L797.1 332.83 L799.1 331.14 L801.1 329.39 L803.1 327.56 L805.1 325.69 L807.1 323.79 L809.1 321.88 L811.1 319.96 L813.1 318.05 L815.1 316.14 L817.1 314.23 L819.1 312.3 L821.1 310.33 L823.1 308.28 L825.1 306.13 L827.1 303.89 L829.1 301.61 L831.1 299.31 L833.1 297.01 L835.1 294.72 L837.1 292.45 L839.1 290.25 L841.1 288.11 L843.1 286.06 L845.1 284.04 L847.1 282.05 L849.1 280.08 L851.1 278.16 L853.1 276.35 L855.1 274.7 L857.1 273.21 L859.1 271.82 L861.1 270.49 L863.1 269.17 L865.1 267.85 L867.1 266.53 L869.1 265.21 L871.1 263.89 L873.1 262.59 L875.1 261.32 L877.1 260.11 L879.1 258.97 L881.1 257.89 L883.1 256.85 L885.1 255.81 L887.1 254.78 L889.1 253.76 L891.1 252.78 L893.1 251.82 L895.1 250.9 L897.1 249.99 L899.1 249.09 L901.1 248.19 L903.1 247.29 L905.1 246.4 L907.1 245.5 L909.1 244.6 L911.1 243.69 L913.1 242.78 L915.1 241.84 L917.1 240.87 L919.1 239.89 L921.1 238.89 L923.1 237.88 L925.1 236.88 L927.1 235.87 L929.1 234.87 L931.1 233.87 L933.1 232.87 L935.1 231.88 L937.1 230.92 L939.1 230.02 L941.1 229.2 L943.1 228.42 L945.1 227.67 L947.1 226.92 L949.1 226.18 L951.1 225.44 L953.1 224.71 L955.1 223.98 L957.1 223.25 L959.1 222.54 L961.1 221.83 L963.1 221.13 L965.1 220.42 L967.1 219.72 L969.1 219 L971.1 218.27 L973.1 217.51 L975.1 216.74 L977.1 215.94 L979.1 215.15 L981.1 214.35 L983.1 213.55 L985.1 212.76 L987.1 211.96 L989.1 211.17 L991.1 210.37 L993.1 209.58 L995.1 208.79 L997.1 208 L999.1 207.2 L1001.1 206.39 L1003.1 205.56 L1005.1 204.69 L1007.1 203.81 L1009.1 202.9 L1011.1 201.99 L1013.1 201.09 L1015.1 200.21 L1017.1 199.41 L1019.1 198.77 L1021.1 198.34 L1023.1 198.08 L1025.1 197.9 L1027.1 197.75 L1029.1 197.61 L1031.1 197.47 L1033.1 197.31 L1035.1 197.13 L1037.1 196.92 L1039.1 196.69 L1041.1 196.44 L1043.1 196.19 L1045.1 195.94 L1047.1 195.69 L1049.1 195.46 L1051.1 195.25 L1053.1 195.08 L1055.1 194.93 L1057.1 194.79 L1059.1 194.65 L1061.1 194.52 L1063.1 194.39 L1065.1 194.26 L1067.1 194.15 L1069.1 194.07 L1071.1 194.03 L1073.1 194.01 L1075.1 194 L1077.1 194 L1079.1 194 L1081.1 194.02 L1083.1 194.07 L1085.1 194.19 L1087.1 194.41 L1089.1 194.72 L1091.1 195.06 L1093.1 195.42 L1095.1 195.75 L1097.1 196.06 L1099.1 196.34 L1101.1 196.61 L1103.1 196.89 L1105.1 197.19 L1107.1 197.52 L1109.1 197.85 L1111.1 198.15 L1113.1 198.32 L1115.1 198.33 L1117.1 198.2 L1119.1 197.98 L1121.1 197.72 L1123.1 197.42 L1125.1 197.1 L1127.1 196.77 L1129.1 196.44 L1131.1 196.11 L1133.1 195.78" fill="none" stroke="#c623c6" stroke-width="1.2" stroke-linejoin="round"/>
<path d="M5.1 533.9 L7.1 533.34 L9.1 532.77 L11.1 532.21 L13.1 531.64 L15.1 531.08 L17.1 530.52 L19.1 529.96 L21.1 529.41 L23.1 528.86 L25.1 528.33 L27.1 527.79 L29.1 527.27 L31.1 526.75 L33.1 526.24 L35.1 525.73 L37.1 525.23 L39.1 524.72 L41.1 524.22 L43.1 523.71 L45.1 523.2 L47.1 522.69 L49.1 522.17 L51.1 521.65 L53.1 521.12 L55.1 520.58 L57.1 520.05 L59.1 519.5 L61.1 518.96 L63.1 518.42 L65.1 517.87 L67.1 517.33 L69.1 516.79 L71.1 516.25 L73.1 515.72 L75.1 515.19 L77.1 514.66 L79.1 514.14 L81.1 513.63 L83.1 513.12 L85.1 512.61 L87.1 512.11 L89.1 511.6 L91.1 511.1 L93.1 510.6 L95.1 510.11 L97.1 509.62 L99.1 509.15 L101.1 508.69 L103.1 508.24 L105.1 507.8 L107.1 507.38 L109.1 506.96 L111.1 506.55 L113.1 506.15 L115.1 505.74 L117.1 505.35 L119.1 504.96 L121.1 504.59 L123.1 504.23 L125.1 503.89 L127.1 503.58 L129.1 503.3 L131.1 503.04 L133.1 502.8 L135.1 502.57 L137.1 502.35 L139.1 502.12 L141.1 501.87 L143.1 501.6 L145.1 501.3 L147.1 500.96 L149.1 500.58 L151.1 500.18 L153.1 499.75 L155.1 499.29 L157.1 498.81 L159.1 498.32 L161.1 497.82 L163.1 497.31 L165.1 496.79 L167.1 496.27 L169.1 495.76 L171.1 495.27 L173.1 494.79 L175.1 494.35 L177.1 493.93 L179.1 493.54 L181.1 493.19 L183.1 492.89 L185.1 492.63 L187.1 492.42 L189.1 492.26 L191.1 492.13 L193.1 492.03 L195.1 491.95 L197.1 491.88 L199.1 491.82 L201.1 491.76 L203.1 491.71 L205.1 491.65 L207.1 491.6 L209.1 491.54 L211.1 491.48 L213.1 491.42 L215.1 491.36 L217.1 491.3 L219.1 491.24 L221.1 491.19 L223.1 491.14 L225.1 491.11 L227.1 491.1 L229.1 491.11 L231.1 491.14 L233.1 491.19 L235.1 491.26 L237.1 491.35 L239.1 491.45 L241.1 491.54 L243.1 491.63 L245.1 491.71 L247.1 491.77 L249.1 491.81 L251.1 491.82 L253.1 491.82 L255.1 491.8 L257.1 491.76 L259.1 491.72 L261.1 491.67 L263.1 491.62 L265.1 491.56 L267.1 491.5 L269.1 491.45 L271.1 491.39 L273.1 491.32 L275.1 491.25 L277.1 491.17 L279.1 491.08 L281.1 490.96 L283.1 490.82 L285.1 490.64 L287.1 490.43 L289.1 490.2 L291.1 489.97 L293.1 489.75 L295.1 489.55 L297.1 489.4 L299.1 489.27 L301.1 489.19 L303.1 489.12 L305.1 489.07 L307.1 489.04 L309.1 489.01 L311.1 488.99 L313.1 488.97 L315.1 488.96 L317.1 488.96 L319.1 488.96 L321.1 488.97 L323.1 488.99 L325.1 489.02 L327.1 489.05 L329.1 489.08 L331.1 489.12 L333.1 489.16 L335.1 489.19 L337.1 489.22 L339.1 489.24 L341.1 489.26 L343.1 489.25 L345.1 489.23 L347.1 489.19 L349.1 489.13 L351.1 489.05 L353.1 488.96 L355.1 488.87 L357.1 488.76 L359.1 488.66 L361.1 488.55 L363.1 488.44 L365.1 488.33 L367.1 488.22 L369.1 488.1 L371.1 487.97 L373.1 487.83 L375.1 487.67 L377.1 487.48 L379.1 487.27 L381.1 487.04 L383.1 486.79 L385.1 486.54 L387.1 486.27 L389.1 486.01 L391.1 485.76 L393.1 485.52 L395.1 485.3 L397.1 485.11 L399.1 484.94 L401.1 484.78 L403.1 484.65 L405.1 484.53 L407.1 484.41 L409.1 484.3 L411.1 484.19 L413.1 484.08 L415.1 483.98 L417.1 483.87 L419.1 483.77 L421.1 483.66 L423.1 483.57 L425.1 483.47 L427.1 483.38 L429.1 483.3 L431.1 483.23 L433.1 483.16 L435.1 483.1 L437.1 483.03 L439.1 482.97 L441.1 482.92 L443.1 482.86 L445.1 482.8 L447.1 482.74 L449.1 482.69 L451.1 482.63 L453.1 482.57 L455.1 482.51 L457.1 482.46 L459.1 482.4 L461.1 482.34 L463.1 482.28 L465.1 482.23 L467.1 482.17 L469.1 482.11 L471.1 482.06 L473.1 482 L475.1 481.94 L477.1 481.89 L479.1 481.84 L481.1 481.78 L483.1 481.73 L485.1 481.68 L487.1 481.63 L489.1 481.59 L491.1 481.54 L493.1 481.49 L495.1 481.44 L497.1 481.4 L499.1 481.35 L501.1 481.31 L503.1 481.26 L505.1 481.22 L507.1 481.18 L509.1 481.15 L511.1 481.11 L513.1 481.08 L515.1 481.05 L517.1 481.01 L519.1 480.98 L521.1 480.93 L523.1 480.88 L525.1 480.81 L527.1 480.72 L529.1 480.61 L531.1 480.45 L533.1 480.27 L535.1 480.05 L537.1 479.8 L539.1 479.54 L541.1 479.26 L543.1 478.98 L545.1 478.7 L547.1 478.42 L549.1 478.14 L551.1 477.88 L553.1 477.62 L555.1 477.36 L557.1 477.11 L559.1 476.87 L561.1 476.63 L563.1 476.4 L565.1 476.17 L567.1 475.95 L569.1 475.73 L571.1 475.53 L573.1 475.33 L575.1 475.14 L577.1 474.94 L579.1 474.74 L581.1 474.53 L583.1 474.3 L585.1 474.03 L587.1 473.73 L589.1 473.39 L591.1 473.01 L593.1 472.6 L595.1 472.16 L597.1 471.71 L599.1 471.24 L601.1 470.77 L603.1 470.3 L605.1 469.83 L607.1 469.37 L609.1 468.92 L611.1 468.48 L613.1 468.04 L615.1 467.6 L617.1 467.17 L619.1 466.74 L621.1 466.3 L623.1 465.87 L625.1 465.43 L627.1 464.99 L629.1 464.54 L631.1 464.1 L633.1 463.65 L635.1 463.2 L637.1 462.75 L639.1 462.3 L641.1 461.85 L643.1 461.4 L645.1 460.95 L647.1 460.5 L649.1 460.05 L651.1 459.6 L653.1 459.14 L655.1 458.68 L657.1 458.21 L659.1 457.73 L661.1 457.22 L663.1 456.68 L665.1 456.11 L667.1 455.49 L669.1 454.84 L671.1 454.15 L673.1 453.44 L675.1 452.72 L677.1 451.98 L679.1 451.24 L681.1 450.51 L683.1 449.78 L685.1 449.06 L687.1 448.37 L689.1 447.71 L691.1 447.07 L693.1 446.47 L695.1 445.9 L697.1 445.36 L699.1 444.83 L701.1 444.32 L703.1 443.81 L705.1 443.31 L707.1 442.79 L709.1 442.27 L711.1 441.73 L713.1 441.17 L715.1 440.58 L717.1 439.95 L719.1 439.3 L721.1 438.61 L723.1 437.9 L725.1 437.18 L727.1 436.44 L729.1 435.7 L731.1 434.95 L733.1 434.19 L735.1 433.43 L737.1 432.67 L739.1 431.89 L741.1 431.09 L743.1 430.29 L745.1 429.47 L747.1 428.64 L749.1 427.8 L751.1 426.95 L753.1 426.1 L755.1 425.25 L757.1 424.39 L759.1 423.52 L761.1 422.65 L763.1 421.76 L765.1 420.86 L767.1 419.94 L769.1 418.99 L771.1 418.03 L773.1 417.06 L775.1 416.07 L777.1 415.08 L779.1 414.08 L781.1 413.08 L783.1 412.08 L785.1 411.07 L787.1 410.07 L789.1 409.06 L791.1 408.05 L793.1 407.04 L795.1 406.01 L797.1 404.98 L799.1 403.93 L801.1 402.86 L803.1 401.78 L805.1 400.68 L807.1 399.57 L809.1 398.45 L811.1 397.32 L813.1 396.2 L815.1 395.07 L817.1 393.93 L819.1 392.79 L821.1 391.63 L823.1 390.45 L825.1 389.24 L827.1 388 L829.1 386.71 L831.1 385.38 L833.1 384.01 L835.1 382.6 L837.1 381.18 L839.1 379.73 L841.1 378.28 L843.1 376.83 L845.1 375.38 L847.1 373.92 L849.1 372.48 L851.1 371.04 L853.1 369.61 L855.1 368.19 L857.1 366.8 L859.1 365.43 L861.1 364.09 L863.1 362.81 L865.1 361.56 L867.1 360.36 L869.1 359.21 L871.1 358.08 L873.1 356.97 L875.1 355.88 L877.1 354.81 L879.1 353.75 L881.1 352.7 L883.1 351.67 L885.1 350.65 L887.1 349.65 L889.1 348.66 L891.1 347.68 L893.1 346.72 L895.1 345.77 L897.1 344.85 L899.1 343.95 L901.1 343.08 L903.1 342.24 L905.1 341.43 L907.1 340.63 L909.1 339.85 L911.1 339.08 L913.1 338.31 L915.1 337.55 L917.1 336.79 L919.1 336.03 L921.1 335.26 L923.1 334.5 L925.1 333.74 L927.1 332.98 L929.1 332.21 L931.1 331.45 L933.1 330.68 L935.1 329.89 L937.1 329.09 L939.1 328.27 L941.1 327.41 L943.1 326.52 L945.1 325.59 L947.1 324.62 L949.1 323.62 L951.1 322.6 L953.1 321.56 L955.1 320.52 L957.1 319.47 L959.1 318.42 L961.1 317.37 L963.1 316.31 L965.1 315.25 L967.1 314.19 L969.1 313.1 L971.1 312 L973.1 310.86 L975.1 309.67 L977.1 308.42 L979.1 307.12 L981.1 305.77 L983.1 304.37 L985.1 302.93 L987.1 301.47 L989.1 300 L991.1 298.53 L993.1 297.07 L995.1 295.62 L997.1 294.2 L999.1 292.82 L1001.1 291.5 L1003.1 290.24 L1005.1 289.04 L1007.1 287.9 L1009.1 286.81 L1011.1 285.76 L1013.1 284.74 L1015.1 283.73 L1017.1 282.72 L1019.1 281.72 L1021.1 280.73 L1023.1 279.73 L1025.1 278.73 L1027.1 277.74 L1029.1 276.75 L1031.1 275.76 L1033.1 274.78 L1035.1 273.81 L1037.1 272.85 L1039.1 271.89 L1041.1 270.95 L1043.1 270.02 L1045.1 269.09 L1047.1 268.17 L1049.1 267.25 L1051.1 266.33 L1053.1 265.41 L1055.1 264.49 L1057.1 263.57 L1059.1 262.65 L1061.1 261.74 L1063.1 260.82 L1065.1 259.9 L1067.1 258.98 L1069.1 258.06 L1071.1 257.15 L1073.1 256.23 L1075.1 255.31 L1077.1 254.39 L1079.1 253.47 L1081.1 252.56 L1083.1 251.64 L1085.1 250.72 L1087.1 249.8 L1089.1 248.88 L1091.1 247.97 L1093.1 247.05 L1095.1 246.13 L1097.1 245.22 L1099.1 244.32 L1101.1 243.42 L1103.1 242.54 L1105.1 241.67 L1107.1 240.82 L1109.1 239.98 L1111.1 239.16 L1113.1 238.35 L1115.1 237.54 L1117.1 236.74 L1119.1 235.94 L1121.1 235.14 L1123.1 234.34 L1125.1 233.55 L1127.1 232.75 L1129.1 231.95 L1131.1 231.16 L1133.1 230.36" fill="none" stroke="#1fc21f" stroke-width="1.2" stroke-linejoin="round"/>
<path d="M5.1 588.6 L7.1 588.13 L9.1 587.67 L11.1 587.2 L13.1 586.73 L15.1 586.26 L17.1 585.78 L19.1 585.3 L21.1 584.81 L23.1 584.32 L25.1 583.81 L27.1 583.3 L29.1 582.78 L31.1 582.26 L33.1 581.72 L35.1 581.18 L37.1 580.63 L39.1 580.09 L41.1 579.53 L43.1 578.98 L45.1 578.41 L47.1 577.85 L49.1 577.28 L51.1 576.71 L53.1 576.13 L55.1 575.54 L57.1 574.95 L59.1 574.36 L61.1 573.77 L63.1 573.17 L65.1 572.57 L67.1 571.97 L69.1 571.37 L71.1 570.77 L73.1 570.17 L75.1 569.57 L77.1 568.97 L79.1 568.37 L81.1 567.78 L83.1 567.18 L85.1 566.58 L87.1 565.99 L89.1 565.4 L91.1 564.81 L93.1 564.23 L95.1 563.66 L97.1 563.1 L99.1 562.55 L101.1 562.01 L103.1 561.49 L105.1 560.99 L107.1 560.5 L109.1 560.02 L111.1 559.55 L113.1 559.09 L115.1 558.63 L117.1 558.18 L119.1 557.74 L121.1 557.3 L123.1 556.86 L125.1 556.43 L127.1 556.01 L129.1 555.6 L131.1 555.18 L133.1 554.78 L135.1 554.38 L137.1 553.98 L139.1 553.59 L141.1 553.19 L143.1 552.8 L145.1 552.41 L147.1 552.02 L149.1 551.63 L151.1 551.25 L153.1 550.86 L155.1 550.48 L157.1 550.1 L159.1 549.72 L161.1 549.35 L163.1 548.98 L165.1 548.61 L167.1 548.25 L169.1 547.89 L171.1 547.53 L173.1 547.17 L175.1 546.81 L177.1 546.45 L179.1 546.1 L181.1 545.74 L183.1 545.38 L185.1 545.01 L187.1 544.65 L189.1 544.29 L191.1 543.92 L193.1 543.55 L195.1 543.18 L197.1 542.82 L199.1 542.45 L201.1 542.08 L203.1 541.72 L205.1 541.36 L207.1 541 L209.1 540.64 L211.1 540.29 L213.1 539.94 L215.1 539.6 L217.1 539.26 L219.1 538.92 L221.1 538.58 L223.1 538.24 L225.1 537.91 L227.1 537.57 L229.1 537.24 L231.1 536.9 L233.1 536.57 L235.1 536.23 L237.1 535.89 L239.1 535.55 L241.1 535.21 L243.1 534.86 L245.1 534.52 L247.1 534.17 L249.1 533.82 L251.1 533.47 L253.1 533.11 L255.1 532.74 L257.1 532.37 L259.1 531.99 L261.1 531.59 L263.1 531.19 L265.1 530.78 L267.1 530.36 L269.1 529.93 L271.1 529.5 L273.1 529.06 L275.1 528.62 L277.1 528.18 L279.1 527.74 L281.1 527.3 L283.1 526.87 L285.1 526.45 L287.1 526.03 L289.1 525.62 L291.1 525.22 L293.1 524.82 L295.1 524.43 L297.1 524.05 L299.1 523.66 L301.1 523.28 L303.1 522.9 L305.1 522.52 L307.1 522.14 L309.1 521.76 L311.1 521.37 L313.1 520.99 L315.1 520.6 L317.1 520.21 L319.1 519.81 L321.1 519.42 L323.1 519.01 L325.1 518.61 L327.1 518.2 L329.1 517.78 L331.1 517.37 L333.1 516.96 L335.1 516.54 L337.1 516.13 L339.1 515.71 L341.1 515.3 L343.1 514.9 L345.1 514.49 L347.1 514.09 L349.1 513.69 L351.1 513.3 L353.1 512.91 L355.1 512.52 L357.1 512.13 L359.1 511.75 L361.1 511.37 L363.1 510.99 L365.1 510.62 L367.1 510.25 L369.1 509.89 L371.1 509.54 L373.1 509.19 L375.1 508.85 L377.1 508.52 L379.1 508.19 L381.1 507.87 L383.1 507.55 L385.1 507.23 L387.1 506.91 L389.1 506.6 L391.1 506.29 L393.1 505.98 L395.1 505.67 L397.1 505.36 L399.1 505.05 L401.1 504.75 L403.1 504.45 L405.1 504.14 L407.1 503.84 L409.1 503.55 L411.1 503.25 L413.1 502.96 L415.1 502.66 L417.1 502.38 L419.1 502.09 L421.1 501.81 L423.1 501.54 L425.1 501.27 L427.1 501 L429.1 500.74 L431.1 500.49 L433.1 500.23 L435.1 499.98 L437.1 499.73 L439.1 499.49 L441.1 499.25 L443.1 499.02 L445.1 498.79 L447.1 498.57 L449.1 498.36 L451.1 498.16 L453.1 497.96 L455.1 497.76 L457.1 497.58 L459.1 497.39 L461.1 497.21 L463.1 497.03 L465.1 496.85 L467.1 496.67 L469.1 496.5 L471.1 496.33 L473.1 496.16 L475.1 496 L477.1 495.85 L479.1 495.71 L481.1 495.57 L483.1 495.44 L485.1 495.3 L487.1 495.17 L489.1 495.03 L491.1 494.87 L493.1 494.69 L495.1 494.49 L497.1 494.26 L499.1 494 L501.1 493.72 L503.1 493.41 L505.1 493.08 L507.1 492.73 L509.1 492.37 L511.1 492 L513.1 491.63 L515.1 491.25 L517.1 490.88 L519.1 490.5 L521.1 490.12 L523.1 489.74 L525.1 489.36 L527.1 488.99 L529.1 488.61 L531.1 488.25 L533.1 487.88 L535.1 487.53 L537.1 487.19 L539.1 486.86 L541.1 486.55 L543.1 486.26 L545.1 486 L547.1 485.75 L549.1 485.52 L551.1 485.3 L553.1 485.1 L555.1 484.9 L557.1 484.71 L559.1 484.53 L561.1 484.34 L563.1 484.15 L565.1 483.95 L567.1 483.75 L569.1 483.55 L571.1 483.33 L573.1 483.11 L575.1 482.88 L577.1 482.65 L579.1 482.41 L581.1 482.17 L583.1 481.92 L585.1 481.67 L587.1 481.41 L589.1 481.14 L591.1 480.86 L593.1 480.57 L595.1 480.27 L597.1 479.96 L599.1 479.64 L601.1 479.31 L603.1 478.97 L605.1 478.63 L607.1 478.29 L609.1 477.95 L611.1 477.61 L613.1 477.27 L615.1 476.94 L617.1 476.62 L619.1 476.31 L621.1 476.01 L623.1 475.72 L625.1 475.43 L627.1 475.16 L629.1 474.88 L631.1 474.61 L633.1 474.34 L635.1 474.06 L637.1 473.78 L639.1 473.48 L641.1 473.18 L643.1 472.87 L645.1 472.55 L647.1 472.23 L649.1 471.89 L651.1 471.56 L653.1 471.22 L655.1 470.88 L657.1 470.54 L659.1 470.2 L661.1 469.87 L663.1 469.54 L665.1 469.21 L667.1 468.89 L669.1 468.57 L671.1 468.26 L673.1 467.95 L675.1 467.64 L677.1 467.33 L679.1 467.02 L681.1 466.7 L683.1 466.38 L685.1 466.05 L687.1 465.71 L689.1 465.35 L691.1 464.98 L693.1 464.6 L695.1 464.2 L697.1 463.79 L699.1 463.36 L701.1 462.93 L703.1 462.49 L705.1 462.04 L707.1 461.59 L709.1 461.13 L711.1 460.67 L713.1 460.2 L715.1 459.73 L717.1 459.25 L719.1 458.77 L721.1 458.28 L723.1 457.79 L725.1 457.29 L727.1 456.79 L729.1 456.29 L731.1 455.78 L733.1 455.26 L735.1 454.74 L737.1 454.21 L739.1 453.68 L741.1 453.13 L743.1 452.57 L745.1 452.01 L747.1 451.43 L749.1 450.85 L751.1 450.27 L753.1 449.67 L755.1 449.08 L757.1 448.48 L759.1 447.88 L761.1 447.27 L763.1 446.67 L765.1 446.06 L767.1 445.45 L769.1 444.84 L771.1 444.23 L773.1 443.61 L775.1 443 L777.1 442.38 L779.1 441.76 L781.1 441.14 L783.1 440.53 L785.1 439.91 L787.1 439.29 L789.1 438.66 L791.1 438.04 L793.1 437.41 L795.1 436.78 L797.1 436.15 L799.1 435.51 L801.1 434.86 L803.1 434.21 L805.1 433.56 L807.1 432.9 L809.1 432.23 L811.1 431.56 L813.1 430.88 L815.1 430.18 L817.1 429.47 L819.1 428.74 L821.1 427.99 L823.1 427.2 L825.1 426.38 L827.1 425.53 L829.1 424.65 L831.1 423.73 L833.1 422.79 L835.1 421.83 L837.1 420.86 L839.1 419.88 L841.1 418.9 L843.1 417.93 L845.1 416.97 L847.1 416.04 L849.1 415.13 L851.1 414.25 L853.1 413.41 L855.1 412.6 L857.1 411.82 L859.1 411.07 L861.1 410.35 L863.1 409.64 L865.1 408.95 L867.1 408.27 L869.1 407.6 L871.1 406.94 L873.1 406.28 L875.1 405.63 L877.1 404.98 L879.1 404.34 L881.1 403.71 L883.1 403.09 L885.1 402.47 L887.1 401.86 L889.1 401.25 L891.1 400.64 L893.1 400.04 L895.1 399.44 L897.1 398.84 L899.1 398.25 L901.1 397.66 L903.1 397.07 L905.1 396.49 L907.1 395.92 L909.1 395.35 L911.1 394.8 L913.1 394.25 L915.1 393.71 L917.1 393.19 L919.1 392.67 L921.1 392.15 L923.1 391.64 L925.1 391.13 L927.1 390.63 L929.1 390.13 L931.1 389.63 L933.1 389.13 L935.1 388.64 L937.1 388.15 L939.1 387.67 L941.1 387.19 L943.1 386.71 L945.1 386.24 L947.1 385.76 L949.1 385.29 L951.1 384.82 L953.1 384.34 L955.1 383.85 L957.1 383.36 L959.1 382.85 L961.1 382.34 L963.1 381.81 L965.1 381.27 L967.1 380.73 L969.1 380.17 L971.1 379.61 L973.1 379.03 L975.1 378.44 L977.1 377.85 L979.1 377.23 L981.1 376.59 L983.1 375.94 L985.1 375.25 L987.1 374.54 L989.1 373.81 L991.1 373.05 L993.1 372.27 L995.1 371.47 L997.1 370.66 L999.1 369.84 L1001.1 369.01 L1003.1 368.18 L1005.1 367.36 L1007.1 366.53 L1009.1 365.71 L1011.1 364.9 L1013.1 364.1 L1015.1 363.32 L1017.1 362.55 L1019.1 361.81 L1021.1 361.09 L1023.1 360.39 L1025.1 359.71 L1027.1 359.04 L1029.1 358.39 L1031.1 357.76 L1033.1 357.13 L1035.1 356.51 L1037.1 355.89 L1039.1 355.27 L1041.1 354.65 L1043.1 354.03 L1045.1 353.41 L1047.1 352.78 L1049.1 352.14 L1051.1 351.5 L1053.1 350.84 L1055.1 350.17 L1057.1 349.48 L1059.1 348.78 L1061.1 348.06 L1063.1 347.33 L1065.1 346.59 L1067.1 345.84 L1069.1 345.08 L1071.1 344.32 L1073.1 343.55 L1075.1 342.78 L1077.1 342.01 L1079.1 341.24 L1081.1 340.47 L1083.1 339.71 L1085.1 338.94 L1087.1 338.17 L1089.1 337.41 L1091.1 336.64 L1093.1 335.88 L1095.1 335.12 L1097.1 334.37 L1099.1 333.62 L1101.1 332.87 L1103.1 332.13 L1105.1 331.39 L1107.1 330.66 L1109.1 329.93 L1111.1 329.22 L1113.1 328.53 L1115.1 327.84 L1117.1 327.18 L1119.1 326.53 L1121.1 325.9 L1123.1 325.29 L1125.1 324.69 L1127.1 324.1 L1129.1 323.51 L1131.1 322.93 L1133.1 322.36" fill="none" stroke="#8c8c8c" stroke-width="1.2" stroke-linejoin="round"/>
<path d="M249.5 629.55 L251.5 629.34 L253.5 629.13 L255.5 628.91 L257.5 628.69 L259.5 628.47 L261.5 628.24 L263.5 628.01 L265.5 627.78 L267.5 627.55 L269.5 627.31 L271.5 627.07 L273.5 626.83 L275.5 626.58 L277.5 626.34 L279.5 626.09 L281.5 625.84 L283.5 625.58 L285.5 625.33 L287.5 625.07 L289.5 624.81 L291.5 624.55 L293.5 624.29 L295.5 624.03 L297.5 623.76 L299.5 623.5 L301.5 623.23 L303.5 622.96 L305.5 622.69 L307.5 622.42 L309.5 622.15 L311.5 621.87 L313.5 621.6 L315.5 621.33 L317.5 621.05 L319.5 620.77 L321.5 620.5 L323.5 620.22 L325.5 619.94 L327.5 619.66 L329.5 619.38 L331.5 619.1 L333.5 618.82 L335.5 618.54 L337.5 618.26 L339.5 617.98 L341.5 617.69 L343.5 617.41 L345.5 617.13 L347.5 616.84 L349.5 616.56 L351.5 616.28 L353.5 615.99 L355.5 615.71 L357.5 615.42 L359.5 615.14 L361.5 614.86 L363.5 614.57 L365.5 614.29 L367.5 614 L369.5 613.72 L371.5 613.43 L373.5 613.14 L375.5 612.86 L377.5 612.57 L379.5 612.29 L381.5 612 L383.5 611.72 L385.5 611.43 L387.5 611.14 L389.5 610.86 L391.5 610.57 L393.5 610.28 L395.5 610 L397.5 609.71 L399.5 609.42 L401.5 609.14 L403.5 608.85 L405.5 608.56 L407.5 608.28 L409.5 607.99 L411.5 607.7 L413.5 607.41 L415.5 607.12 L417.5 606.84 L419.5 606.55 L421.5 606.26 L423.5 605.97 L425.5 605.68 L427.5 605.39 L429.5 605.1 L431.5 604.81 L433.5 604.52 L435.5 604.23 L437.5 603.93 L439.5 603.64 L441.5 603.35 L443.5 603.06 L445.5 602.76 L447.5 602.47 L449.5 602.17 L451.5 601.88 L453.5 601.58 L455.5 601.28 L457.5 600.99 L459.5 600.69 L461.5 600.39 L463.5 600.09 L465.5 599.79 L467.5 599.49 L469.5 599.18 L471.5 598.88 L473.5 598.58 L475.5 598.27 L477.5 597.97 L479.5 597.66 L481.5 597.35 L483.5 597.04 L485.5 596.73 L487.5 596.42 L489.5 596.11 L491.5 595.8 L493.5 595.48 L495.5 595.17 L497.5 594.85 L499.5 594.53 L501.5 594.21 L503.5 593.89 L505.5 593.57 L507.5 593.25 L509.5 592.92 L511.5 592.6 L513.5 592.27 L515.5 591.94 L517.5 591.61 L519.5 591.28 L521.5 590.94 L523.5 590.61 L525.5 590.27 L527.5 589.93 L529.5 589.59 L531.5 589.25 L533.5 588.91 L535.5 588.56 L537.5 588.21 L539.5 587.86 L541.5 587.51 L543.5 587.16 L545.5 586.81 L547.5 586.45 L549.5 586.09 L551.5 585.73 L553.5 585.37 L555.5 585 L557.5 584.64 L559.5 584.27 L561.5 583.9 L563.5 583.52 L565.5 583.15 L567.5 582.77 L569.5 582.39 L571.5 582.01 L573.5 581.63 L575.5 581.24 L577.5 580.86 L579.5 580.47 L581.5 580.07 L583.5 579.68 L585.5 579.28 L587.5 578.88 L589.5 578.48 L591.5 578.08 L593.5 577.67 L595.5 577.26 L597.5 576.85 L599.5 576.44 L601.5 576.02 L603.5 575.6 L605.5 575.18 L607.5 574.76 L609.5 574.33 L611.5 573.91 L613.5 573.48 L615.5 573.04 L617.5 572.61 L619.5 572.17 L621.5 571.73 L623.5 571.29 L625.5 570.84 L627.5 570.39 L629.5 569.94 L631.5 569.49 L633.5 569.03 L635.5 568.58 L637.5 568.11 L639.5 567.65 L641.5 567.19 L643.5 566.72 L645.5 566.25 L647.5 565.77 L649.5 565.3 L651.5 564.82 L653.5 564.34 L655.5 563.85 L657.5 563.37 L659.5 562.88 L661.5 562.39 L663.5 561.9 L665.5 561.4 L667.5 560.9 L669.5 560.4 L671.5 559.9 L673.5 559.39 L675.5 558.88 L677.5 558.37 L679.5 557.86 L681.5 557.34 L683.5 556.82 L685.5 556.3 L687.5 555.78 L689.5 555.26 L691.5 554.73 L693.5 554.2 L695.5 553.67 L697.5 553.13 L699.5 552.59 L701.5 552.06 L703.5 551.51 L705.5 550.97 L707.5 550.42 L709.5 549.88 L711.5 549.33 L713.5 548.77 L715.5 548.22 L717.5 547.66 L719.5 547.1 L721.5 546.54 L723.5 545.98 L725.5 545.41 L727.5 544.85 L729.5 544.28 L731.5 543.71 L733.5 543.14 L735.5 542.56 L737.5 541.98 L739.5 541.41 L741.5 540.83 L743.5 540.24 L745.5 539.66 L747.5 539.07 L749.5 538.49 L751.5 537.9 L753.5 537.31 L755.5 536.72 L757.5 536.12 L759.5 535.53 L761.5 534.93 L763.5 534.33 L765.5 533.73 L767.5 533.13 L769.5 532.53 L771.5 531.93 L773.5 531.32 L775.5 530.72 L777.5 530.11 L779.5 529.5 L781.5 528.89 L783.5 528.28 L785.5 527.67 L787.5 527.05 L789.5 526.44 L791.5 525.82 L793.5 525.21 L795.5 524.59 L797.5 523.97 L799.5 523.36 L801.5 522.74 L803.5 522.12 L805.5 521.5 L807.5 520.88 L809.5 520.25 L811.5 519.63 L813.5 519.01 L815.5 518.38 L817.5 517.76 L819.5 517.14 L821.5 516.51 L823.5 515.89 L825.5 515.26 L827.5 514.64 L829.5 514.01 L831.5 513.38 L833.5 512.76 L835.5 512.13 L837.5 511.5 L839.5 510.88 L841.5 510.25 L843.5 509.63 L845.5 509 L847.5 508.37 L849.5 507.75 L851.5 507.12 L853.5 506.5 L855.5 505.87 L857.5 505.25 L859.5 504.62 L861.5 504 L863.5 503.38 L865.5 502.75 L867.5 502.13 L869.5 501.51 L871.5 500.89 L873.5 500.27 L875.5 499.65 L877.5 499.03 L879.5 498.41 L881.5 497.79 L883.5 497.18 L885.5 496.56 L887.5 495.95 L889.5 495.33 L891.5 494.72 L893.5 494.11 L895.5 493.5 L897.5 492.89 L899.5 492.28 L901.5 491.67 L903.5 491.06 L905.5 490.46 L907.5 489.86 L909.5 489.25 L911.5 488.65 L913.5 488.05 L915.5 487.45 L917.5 486.85 L919.5 486.26 L921.5 485.66 L923.5 485.07 L925.5 484.48 L927.5 483.89 L929.5 483.3 L931.5 482.71 L933.5 482.12 L935.5 481.54 L937.5 480.96 L939.5 480.37 L941.5 479.79 L943.5 479.22 L945.5 478.64 L947.5 478.06 L949.5 477.49 L951.5 476.92 L953.5 476.35 L955.5 475.78 L957.5 475.21 L959.5 474.65 L961.5 474.08 L963.5 473.52 L965.5 472.96 L967.5 472.4 L969.5 471.84 L971.5 471.29 L973.5 470.73 L975.5 470.18 L977.5 469.63 L979.5 469.08 L981.5 468.53 L983.5 467.98 L985.5 467.44 L987.5 466.9 L989.5 466.35 L991.5 465.81 L993.5 465.28 L995.5 464.74 L997.5 464.2 L999.5 463.67 L1001.5 463.13 L1003.5 462.6 L1005.5 462.07 L1007.5 461.54 L1009.5 461.01 L1011.5 460.48 L1013.5 459.96 L1015.5 459.43 L1017.5 458.91 L1019.5 458.38 L1021.5 457.86 L1023.5 457.34 L1025.5 456.82 L1027.5 456.3 L1029.5 455.78 L1031.5 455.26 L1033.5 454.74 L1035.5 454.23 L1037.5 453.71 L1039.5 453.19 L1041.5 452.67 L1043.5 452.16 L1045.5 451.64 L1047.5 451.13 L1049.5 450.61 L1051.5 450.09 L1053.5 449.57 L1055.5 449.06 L1057.5 448.54 L1059.5 448.02 L1061.5 447.5 L1063.5 446.98 L1065.5 446.46 L1067.5 445.94 L1069.5 445.42 L1071.5 444.89 L1073.5 444.37 L1075.5 443.84 L1077.5 443.31 L1079.5 442.78 L1081.5 442.25 L1083.5 441.72 L1085.5 441.18 L1087.5 440.64 L1089.5 440.1 L1091.5 439.56 L1093.5 439.02 L1095.5 438.47 L1097.5 437.91 L1099.5 437.36 L1101.5 436.8 L1103.5 436.24 L1105.5 435.67 L1107.5 435.11 L1109.5 434.53 L1111.5 433.95 L1113.5 433.37 L1115.5 432.79 L1117.5 432.19 L1119.5 431.6 L1121.5 431 L1123.5 430.39 L1125.5 429.78 L1127.5 429.16 L1129.5 428.53 L1131.5 427.9" fill="none" stroke="#d83030" stroke-width="1.25" stroke-linejoin="round"/>
<path d="M63.47 442.3 H72.27 M66.47 442.3 V439.3" stroke="#d8d8d8" stroke-width="1.4" fill="none"/>
<path d="M851.24 81 H860.04 M854.24 81 V78" stroke="#d8d8d8" stroke-width="1.4" fill="none"/>
<path d="M150.6 521 H159.4 M154 521 V524" stroke="#d8d8d8" stroke-width="1.4" fill="none"/>
<line x1="1.0" y1="147.46" x2="1175" y2="147.46" stroke="#f0a030" stroke-width="1.25" stroke-dasharray="3.6 3.9"/>
</svg>
<div class="ax" style="top:17.37px">4517.30</div>
<div class="ax" style="top:92.67px">4322.88</div>
<div class="ax" style="top:167.97px">4128.46</div>
<div class="ax" style="top:243.27px">3934.04</div>
<div class="ax" style="top:318.57px">3739.62</div>
<div class="ax" style="top:393.87px">3545.20</div>
<div class="ax" style="top:469.17px">3350.77</div>
<div class="ax" style="top:544.47px">3156.35</div>
<div class="t hdr" style="left:2px;color:#e0e0e0;font-size:15px;top:4px;transform:none;-webkit-text-stroke:0">现货黄金</div>
<div class="t hdr" style="left:62px;color:#f07814;font-size:15.5px;top:4px;transform:none;-webkit-text-stroke:0">【日线】</div>
<svg style="position:absolute;left:121px;top:8px" width="16" height="16" viewBox="0 0 16 16"><circle cx="7.8" cy="7.2" r="5.1" fill="none" stroke="#e07020" stroke-width="1.3"/><path d="M2.7 7.2 H12.9 M7.8 2.1 V12.3" stroke="#e07020" stroke-width="1.2"/></svg>
<svg style="position:absolute;left:143px;top:2px" width="18" height="18" viewBox="0 0 18 18"><rect x="2" y="2" width="15" height="15" fill="#888"/><rect x="0.7" y="0.7" width="14.6" height="14.6" fill="#fff" stroke="#1a1a9a" stroke-width="1.4"/><path d="M2 8 L5 5 L8 8 L11 5 L14 7" stroke="#e02020" stroke-width="1.2" fill="none"/><path d="M2 12 L5 9 L8 12 L11 9 L14 10" stroke="#2020e0" stroke-width="1.2" fill="none"/></svg>
<div class="t hdr" style="left:162px;color:#d8d8d8;letter-spacing:-0.1px;">MA(5,10,30,60,100,200)</div>
<div class="t hdr" style="left:334.5px;color:#e0e0e0;">MA5:4204.53</div>
<div class="t hdr" style="left:438.5px;color:#d2c41c;">MA10:4159.45</div>
<div class="t hdr" style="left:551.5px;color:#c823c8;">MA30:4083.28</div>
<div class="t hdr" style="left:663.5px;color:#22c322;">MA60:3996.40</div>
<div class="t hdr" style="left:776px;color:#8c8c8c;">MA100:3759.27</div>
<div class="t hdr" style="left:897.5px;color:#e03434;">MA200:3488.8</div>
<svg style="position:absolute;left:1095px;top:1px" width="20" height="20" viewBox="-1 -1 20 20"><rect x="-0.8" y="-0.5" width="19.6" height="19.2" fill="#000"/><rect x="0.6" y="1" width="16.8" height="16.2" fill="#000" stroke="#8c8c8c" stroke-width="1.2"/><rect x="8" y="2.6" width="1.5" height="3.2" fill="#9a9a9a"/><rect x="8" y="11.2" width="1.5" height="3.2" fill="#9a9a9a"/><rect x="2.8" y="7.6" width="3" height="1.5" fill="#9a9a9a"/><rect x="11.5" y="7.6" width="3" height="1.5" fill="#9a9a9a"/><rect x="8" y="7.6" width="1.5" height="1.5" fill="#9a9a9a"/></svg>
<svg style="position:absolute;left:1115px;top:1px" width="20" height="20" viewBox="-1 -1 20 20"><rect x="-0.8" y="-0.5" width="19.6" height="19.2" fill="#000"/><rect x="0.6" y="1" width="16.8" height="16.2" fill="#000" stroke="#8c8c8c" stroke-width="1.2"/><path d="M4.1 3 V14" stroke="#9a9a9a" stroke-width="1"/><path d="M2.6 4.6 L4.1 2.4 L5.6 4.6 Z" fill="#9a9a9a"/><path d="M3 13 H14" stroke="#9a9a9a" stroke-width="1"/><path d="M13.4 11.5 L15.4 13 L13.4 14.5 Z M4.6 11.5 L2.6 13 L4.6 14.5 Z" fill="#9a9a9a"/><rect x="7.6" y="4.7" width="1.3" height="6" fill="#9a9a9a"/><path d="M9.2 7.7 L12.8 4.7 V10.7 Z" fill="#9a9a9a"/></svg>
<svg style="position:absolute;left:1135px;top:1px" width="20" height="20" viewBox="-1 -1 20 20"><rect x="-0.8" y="-0.5" width="19.6" height="19.2" fill="#000"/><rect x="0.6" y="1" width="16.8" height="16.2" fill="#000" stroke="#8c8c8c" stroke-width="1.2"/><path d="M4.1 3 V14" stroke="#9a9a9a" stroke-width="1"/><path d="M2.6 4.6 L4.1 2.4 L5.6 4.6 Z" fill="#9a9a9a"/><path d="M3 13 H14" stroke="#9a9a9a" stroke-width="1"/><path d="M13.4 11.5 L15.4 13 L13.4 14.5 Z M4.6 11.5 L2.6 13 L4.6 14.5 Z" fill="#9a9a9a"/><path d="M7.6 4.6 L14.2 7.9 L7.6 11.2 Z" fill="#9a9a9a"/></svg>
<svg style="position:absolute;left:1155px;top:1px" width="20" height="20" viewBox="-1 -1 20 20"><rect x="-0.8" y="-0.5" width="19.6" height="19.2" fill="#000"/><rect x="0.6" y="1" width="16.8" height="16.2" fill="#000" stroke="#8c8c8c" stroke-width="1.2"/><rect x="3" y="2.6" width="3.4" height="12.2" rx="1" fill="none" stroke="#9a9a9a" stroke-width="1.1"/><path d="M5.6 7.9 H11" stroke="#9a9a9a" stroke-width="1.6"/><path d="M10.2 5.3 L14.3 7.9 L10.2 10.6 Z" fill="#9a9a9a"/><circle cx="6.2" cy="7.9" r="1.2" fill="#9a9a9a"/></svg>
<div class="t" style="left:1175px;top:147px;width:84px;height:20px;border:1px solid #f0a030;background:#000;"></div>
<div class="ax" style="top:149px;color:#f0a030;">4208.41</div>
<svg style="position:absolute;left:1250px;top:137px" width="10" height="11" viewBox="0 0 10 11"><rect x="0" y="0" width="10" height="11" fill="#000"/><path d="M0.3 5 L5 0.4 L9.7 5 Z M0.3 10.6 L5 5.8 L9.7 10.6 Z" fill="#f0a030"/></svg>
<div class="t lb" style="left:860px;top:62.3px;color:#e84a58;">4381.29</div>
<div class="t lb" style="left:72.5px;top:423.8px;color:#e84a58;">3451.14</div>
<div class="t lb" style="left:160.3px;top:521.1px;color:#4db38c;">3247.87</div>
<div class="t" style="left:1132.5px;top:580px;font-size:26.5px;letter-spacing:5.1px;color:#e4eaf4;-webkit-text-stroke:0.4px #e4eaf4;transform:scaleY(1.18);transform-origin:0 0;">FX678</div>
</body></html>
